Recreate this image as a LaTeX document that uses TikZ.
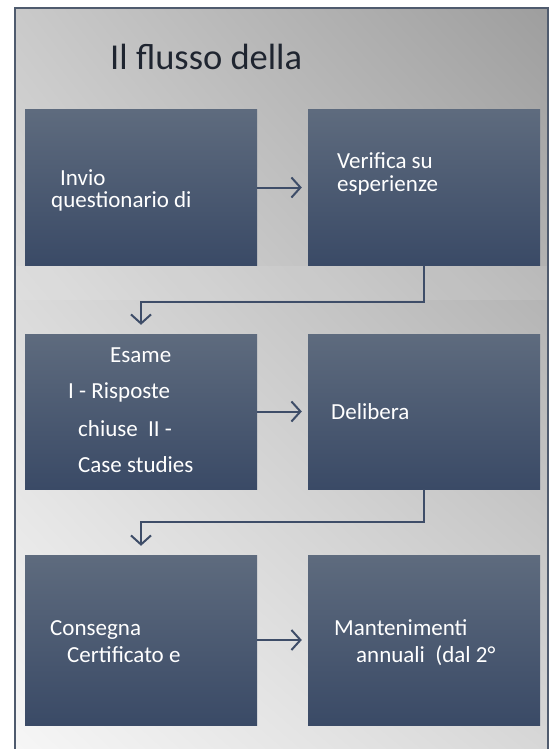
\documentclass[tikz,border=0pt]{standalone}
\usepackage{fontspec}
\setmainfont{Carlito}
\usetikzlibrary{arrows.meta,shadings}
\definecolor{slate}{HTML}{3E4D68}
\definecolor{boxtop}{HTML}{5E6B7E}
\definecolor{boxbot}{HTML}{3A4A66}
\definecolor{framec}{HTML}{4F5B6E}
\definecolor{titlec}{HTML}{1F2530}

\begin{document}
\begin{tikzpicture}[x=1pt,y=-1pt,
  stepbox/.style={minimum width=232pt,minimum height=155pt,inner sep=0pt,top color=boxtop,bottom color=boxbot},
  lbl/.style={anchor=base west,inner sep=0pt,text=white,font=\fontsize{23}{28}\selectfont},
  link/.style={draw=slate,line width=2pt,-{Straight Barb[length=9pt,width=20pt]},shorten >=6pt}]
\useasboundingbox (0,0) rectangle (552,749);
\clip (0,0) rectangle (552,749);
\shade[upper left=black!21,upper right=black!38,lower left=black!3,lower right=black!15] (15,8) rectangle (548,770);
\fill[white,opacity=0.1] (15,266) rectangle (548,300);
\draw[framec,line width=2.5pt] (15,8) rectangle (548,770);

\node[anchor=base west,inner sep=0pt,text=titlec,font=\fontsize{36.5}{44}\selectfont] (title) at (110,70) {Il flusso della};

% boxes
\node[stepbox] (invio) at (141,187.5) {};
\node[stepbox] (verifica) at (424,187.5) {};
\node[stepbox] (esame) at (141,411.5) {};
\node[stepbox] (delibera) at (424,411.5) {};
\node[stepbox,minimum height=170pt] (consegna) at (141,640) {};
\node[stepbox,minimum height=170pt] (mantenimenti) at (424,640) {};

\node[lbl] (invio-1) at (60,185) {Invio};
\node[lbl] (invio-2) at (51,207) {questionario di};
\node[lbl] (verifica-1) at (337,168) {Verifica su};
\node[lbl] (verifica-2) at (337,191) {esperienze};
\node[lbl] (esame-1) at (110,362) {Esame};
\node[lbl] (esame-2) at (68,398) {I - Risposte};
\node[lbl] (esame-3) at (78,436) {chiuse\ \ II -};
\node[lbl] (esame-4) at (78,472) {Case studies};
\node[lbl] (delibera-1) at (331,419) {Delibera};
\node[lbl] (consegna-1) at (50,635) {Consegna};
\node[lbl] (consegna-2) at (67,662) {Certificato e};
\node[lbl] (mantenimenti-1) at (334,635) {Mantenimenti};
\node[lbl] (mantenimenti-2) at (356,662) {annuali\ \ (dal 2°};

% flow
\draw[link] (invio.east) -- (verifica.west);
\draw[link,shorten >=9pt] (verifica.south) -- ++(0,37) -| (esame.north);
\draw[link] (esame.east) -- (delibera.west);
\draw[link,shorten >=9pt] (delibera.south) -- ++(0,33) -| (consegna.north);
\draw[link] (consegna.east) -- (mantenimenti.west);
\end{tikzpicture}
\end{document}
